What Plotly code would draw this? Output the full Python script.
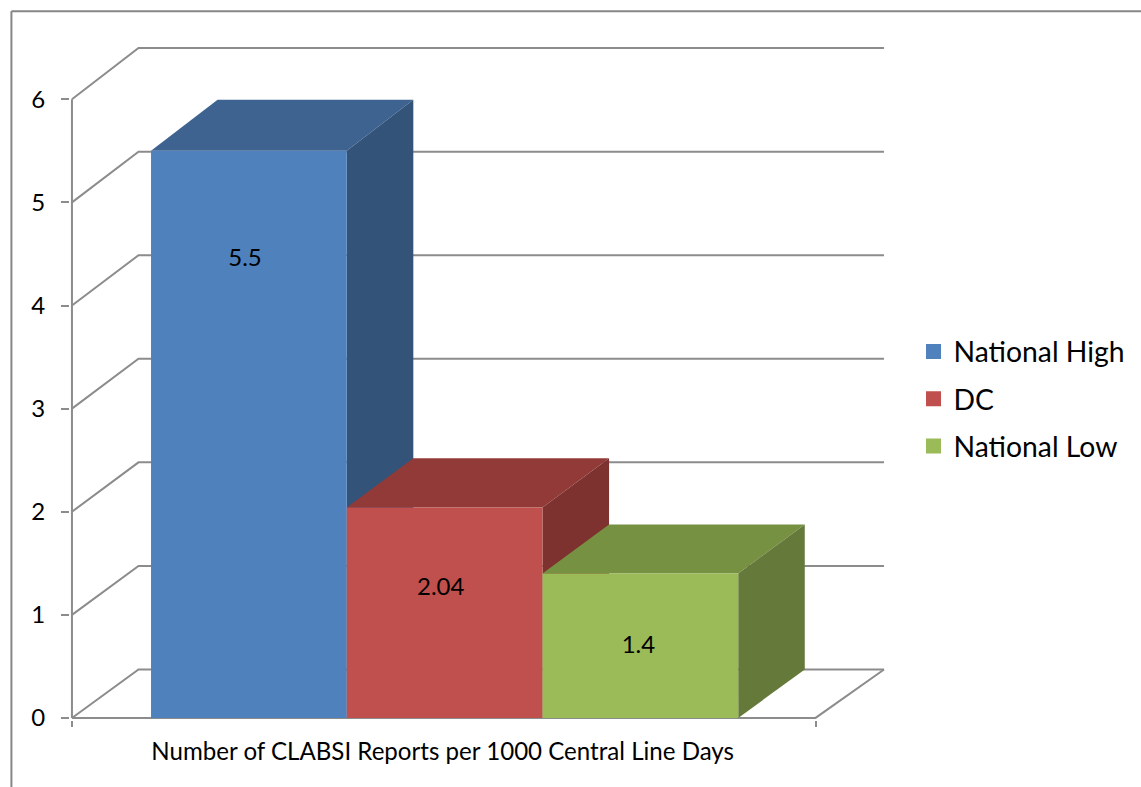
import plotly.graph_objects as go

# ---- data ----
categories = ["National High", "DC", "National Low"]
values = [5.5, 2.04, 1.4]
value_labels = ["5.5", "2.04", "1.4"]
label_heights = [4.44, 1.25, 0.69]
label_centers = [0.48, 1.48, 2.49]
axis_title = "Number of CLABSI Reports per 1000 Central Line Days"
y_ticks = [0, 1, 2, 3, 4, 5, 6]

front_colors = ["#4F81BD", "#C0504D", "#9BBB59"]
top_colors = ["#3F6390", "#923A38", "#779142"]
side_colors = ["#335379", "#7E3230", "#65793A"]

# ---- geometry of the pseudo-3D box (in axis units) ----
X_MIN, X_MAX = -0.404, 3.395
DX, DX_WALL = 0.34, 0.35
DY, Y_STRETCH = 0.47, 1.0045
PAD_X, PAD_Y = 0.01, 0.02
GRID = "#8C8C8C"
FONT = "Lato, Calibri, sans-serif"
W, H = 1141, 787
UX, UY = 195.6, 103.0          # pixels per axis unit
X0_PX, Y0_PX = 72.0, 717.5     # pixel position of (X_MIN, 0)
x_range = [X_MIN - PAD_X, X_MAX + DX_WALL + PAD_X]
y_range = [-PAD_Y, DY + 6 * Y_STRETCH + PAD_Y]
L = X0_PX - PAD_X * UX
B = H - Y0_PX - PAD_Y * UY
PW = (x_range[1] - x_range[0]) * UX
PH = (y_range[1] - y_range[0]) * UY
R = W - L - PW
T = H - B - PH


def px(x):
    return (x - L) / PW


def py(y):
    return (H - B - y) / PH


def back(v):
    """Height on the back wall of a value on the front plane."""
    return DY + v * Y_STRETCH


fig = go.Figure()


def poly(xs, ys, color):
    fig.add_trace(go.Scatter(
        x=xs, y=ys, mode="lines", fill="toself", fillcolor=color,
        line=dict(width=0, color=color),
        showlegend=False, hoverinfo="skip"))


def line(xs, ys):
    fig.add_trace(go.Scatter(
        x=xs, y=ys, mode="lines", line=dict(color=GRID, width=2),
        showlegend=False, hoverinfo="skip"))


# back wall gridlines and side-wall diagonals
for v in y_ticks:
    line([X_MIN, X_MIN + DX, X_MAX + DX_WALL], [v, back(v), back(v)])
# floor edges and axis lines
line([X_MAX + DX_WALL, X_MAX, X_MIN], [back(0), 0, 0])
line([X_MIN, X_MIN], [0, 6])

# bars, left to right
for i, v in enumerate(values):
    x0, x1 = i, i + 1
    b = back(v)
    poly([x0, x0 + DX, x1 + DX, x1, x0], [v, b, b, v, v], top_colors[i])
    poly([x1, x1 + DX, x1 + DX, x1, x1], [0, back(0), b, v, 0], side_colors[i])
    poly([x0, x1, x1, x0, x0], [0, 0, v, v, 0], front_colors[i])

# legend entries
for name, color in zip(categories, front_colors):
    fig.add_trace(go.Scatter(
        x=[None], y=[None], mode="markers", name=name, legendgroup=name,
        marker=dict(symbol="square", size=15, color=color)))

# value labels
fig.add_trace(go.Scatter(
    x=label_centers, y=label_heights, mode="text", text=value_labels,
    textfont=dict(family=FONT, size=24, color="#000000"),
    textposition="middle center", showlegend=False, hoverinfo="skip"))

frame = [
    dict(type="line", xref="paper", yref="paper", x0=px(11.5), x1=px(11.5),
         y0=py(11.5), y1=py(H), line=dict(color="#868686", width=2)),
    dict(type="line", xref="paper", yref="paper", x0=px(11.5), x1=px(W),
         y0=py(11.5), y1=py(11.5), line=dict(color="#868686", width=2)),
]

fig.update_layout(
    width=W, height=H, autosize=False,
    margin=dict(l=L, r=R, t=T, b=B, pad=0),
    paper_bgcolor="#FFFFFF", plot_bgcolor="rgba(0,0,0,0)",
    shapes=frame,
    font=dict(family=FONT, color="#000000"),
    xaxis=dict(
        range=x_range, showgrid=False, zeroline=False, showline=False,
        tickmode="array", tickvals=[1.49], ticktext=[axis_title],
        ticks="", ticklabelstandoff=15, tickfont=dict(family=FONT, size=24.1),
        minor=dict(tickmode="array", tickvals=[X_MIN, X_MAX], ticks="outside",
                   ticklen=6, tickwidth=2, tickcolor=GRID, showgrid=False),
    ),
    yaxis=dict(
        range=y_range, showgrid=False, zeroline=False, showline=False,
        tickmode="array", tickvals=y_ticks,
        ticks="outside", ticklen=8, tickwidth=2, tickcolor=GRID,
        ticklabelstandoff=11, tickfont=dict(family=FONT, size=24),
    ),
    legend=dict(
        x=px(913), y=py(326.5), xanchor="left", yanchor="top",
        font=dict(family=FONT, size=28.3, color="#000000"),
        bgcolor="rgba(0,0,0,0)", tracegroupgap=7.5, itemwidth=30,
        itemclick=False, itemdoubleclick=False,
    ),
    hovermode=False,
)

fig.write_html("out.html", config={"displayModeBar": False},
               post_script="document.body.style.margin='0';")
